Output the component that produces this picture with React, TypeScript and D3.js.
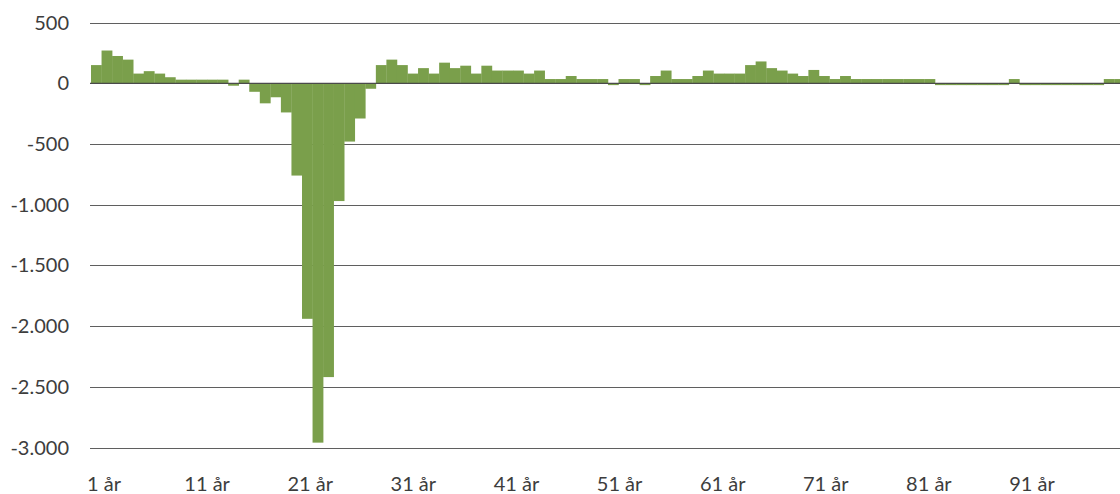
import React, { useRef, useEffect } from "react";
import { select, scaleBand, scaleLinear, formatLocale } from "d3";

// alder 1..100 år
const ages: number[] = Array.from({ length: 100 }, (_, i) => i + 1);

const values: number[] = [
  150, 270, 225, 195, 80, 100, 80, 50, 30, 30,
  30, 30, 30, -20, 30, -70, -165, -115, -240, -760,
  -1940, -2960, -2420, -970, -480, -290, -45, 150, 195, 150,
  80, 125, 80, 170, 125, 145, 80, 145, 105, 105,
  105, 80, 105, 35, 35, 60, 35, 35, 35, -15,
  35, 35, -15, 60, 105, 35, 35, 60, 105, 80,
  80, 80, 150, 180, 125, 105, 80, 60, 110, 60,
  35, 60, 35, 35, 35, 35, 35, 35, 35, 35,
  -15, -15, -15, -15, -15, -15, -15, 35, -15, -15,
  -15, -15, -15, -15, -15, -15, 35, 35, 35, 35,
];

const yTicks: number[] = [500, 0, -500, -1000, -1500, -2000, -2500, -3000];
const xTickAges: number[] = [1, 11, 21, 31, 41, 51, 61, 71, 81, 91];

const W = 1120;
const H = 494;

const nf = formatLocale({
  decimal: ",",
  thousands: ".",
  grouping: [3],
  currency: ["", " kr"],
  minus: "-",
}).format(",");

const App = () => {
  const svgRef = useRef<SVGSVGElement>(null);

  useEffect(() => {
    const svg = select(svgRef.current);

    const x = scaleBand<number>()
      .domain(ages)
      .range([91, 91 + ages.length * 10.55])
      .padding(0);

    // kategorietiketterne sidder lidt tættere end søjlerne i originalen
    const xLabel = scaleLinear().domain([1, 91]).range([104, 1032]);

    const y = scaleLinear().domain([-3000, 500]).range([447.5, 22.6]);

    // gitterlinjer (bag søjlerne)
    svg
      .select(".grid")
      .selectAll("line")
      .data(yTicks.filter((t) => t !== 0))
      .join("line")
      .attr("x1", 90)
      .attr("x2", W)
      .attr("y1", (d) => Math.round(y(d)) + 0.5)
      .attr("y2", (d) => Math.round(y(d)) + 0.5)
      .attr("stroke", "#5f5f5f")
      .attr("stroke-width", 1);

    svg
      .select(".bars")
      .selectAll("rect")
      .data(values)
      .join("rect")
      .attr("x", (_, i) => x(ages[i]) as number)
      .attr("width", x.bandwidth() + 0.3)
      .attr("y", (d) => y(Math.max(0, d)))
      .attr("height", (d) => Math.abs(y(d) - y(0)))
      .attr("fill", "#7a9f4b");

    // nullinje ovenpå
    svg
      .select(".zero")
      .selectAll("line")
      .data([0])
      .join("line")
      .attr("x1", 90)
      .attr("x2", W)
      .attr("y1", (d) => y(d))
      .attr("y2", (d) => y(d))
      .attr("stroke", "#4a4a4a")
      .attr("stroke-width", 1.3);

    svg
      .select(".y-axis")
      .selectAll("text")
      .data(yTicks)
      .join("text")
      .attr("x", 69)
      .attr("y", (d) => y(d))
      .attr("dy", "0.35em")
      .attr("text-anchor", "end")
      .text((d) => nf(d));

    svg
      .select(".x-axis")
      .selectAll("text")
      .data(xTickAges)
      .join("text")
      .attr("x", (d) => xLabel(d))
      .attr("y", 491)
      .attr("text-anchor", "middle")
      .text((d) => `${d} år`);
  }, []);

  return (
    <svg
      ref={svgRef}
      width={W}
      height={H}
      style={{ position: "absolute", left: 0, top: 0, display: "block", background: "#fff" }}
      fontFamily="Lato, 'Open Sans', sans-serif"
      fontSize={20}
      fill="#3d3d3d"
    >
      <g className="grid" />
      <g className="bars" />
      <g className="zero" />
      <g className="y-axis" fill="#3d3d3d" />
      <g className="x-axis" fill="#3d3d3d" />
    </svg>
  );
};

export default App;
